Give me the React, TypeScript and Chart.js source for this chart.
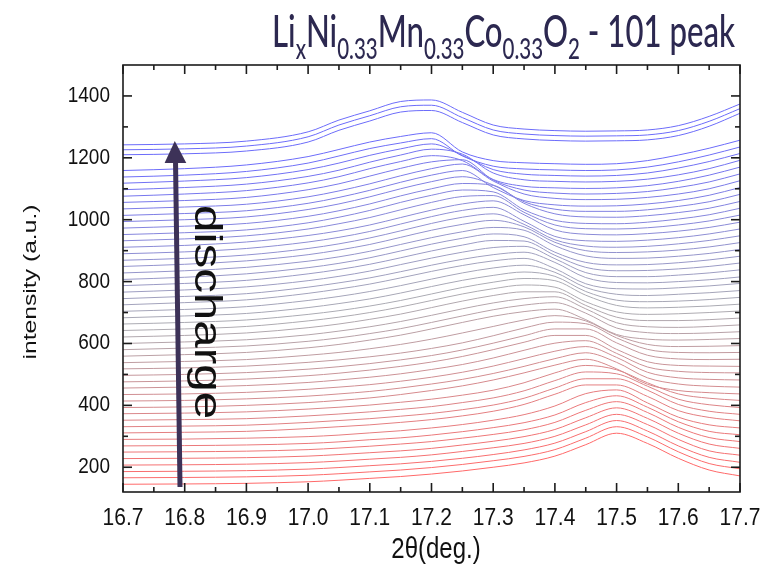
import React, { useEffect, useRef } from "react";
import { Chart, registerables } from "chart.js";

Chart.register(...registerables);

// 2θ sampling positions (deg.)
const twoTheta = [16.7, 16.8, 16.9, 17.0, 17.05, 17.1, 17.15, 17.2, 17.25, 17.3, 17.35, 17.4, 17.45, 17.5, 17.55, 17.6, 17.65, 17.7];

// waterfall offsets of the discharge scans (bottom = first scan)
const offsets = [
  145, 166, 186, 207, 228, 249, 269, 290, 311, 331,
  352, 373, 393, 414, 435, 456, 476, 497, 518, 538,
  559, 580, 600, 621, 642, 663, 683, 704, 725, 745,
  766, 787, 807, 828, 849, 869, 890, 911, 932, 952,
  973, 994, 1014, 1035, 1056, 1076, 1097, 1118, 1138, 1159,
];

// intensity above each scan's offset, at the twoTheta positions
const profiles = [
  [0, 1, 3, 8, 13, 19, 25, 33, 43, 55, 69, 91, 128, 165, 132, 84, 46, 27],
  [0, 1, 3, 8, 13, 19, 25, 33, 43, 55, 69, 91, 128, 165, 132, 84, 46, 29],
  [0, 1, 3, 8, 13, 19, 25, 33, 43, 55, 70, 92, 129, 165, 131, 83, 46, 30],
  [0, 1, 3, 8, 13, 19, 25, 33, 44, 56, 70, 93, 130, 164, 131, 83, 46, 32],
  [0, 1, 3, 8, 13, 19, 25, 33, 44, 56, 71, 94, 132, 164, 130, 82, 47, 33],
  [0, 1, 3, 8, 13, 19, 26, 34, 45, 57, 72, 96, 135, 163, 128, 80, 47, 34],
  [0, 1, 3, 8, 13, 20, 26, 35, 46, 59, 75, 100, 140, 162, 125, 78, 47, 36],
  [0, 1, 4, 9, 14, 21, 28, 37, 48, 62, 80, 108, 148, 160, 118, 72, 47, 37],
  [0, 2, 5, 14, 20, 26, 34, 43, 55, 70, 92, 125, 155, 155, 118, 72, 50, 39],
  [0, 2, 5, 14, 20, 26, 34, 43, 55, 70, 92, 125, 155, 155, 118, 72, 50, 40],
  [0, 2, 5, 14, 20, 27, 35, 44, 57, 72, 95, 128, 156, 150, 110, 68, 50, 41],
  [0, 2, 6, 15, 21, 28, 37, 47, 60, 76, 100, 132, 156, 142, 100, 64, 50, 43],
  [0, 2, 7, 16, 23, 31, 42, 55, 70, 89, 112, 137, 156, 125, 75, 55, 48, 44],
  [0, 2, 7, 16, 23, 31, 42, 55, 70, 89, 112, 137, 156, 125, 75, 55, 48, 45],
  [0, 2, 7, 17, 24, 32, 43, 56, 72, 92, 116, 140, 155, 120, 72, 54, 49, 47],
  [0, 3, 8, 18, 26, 35, 46, 60, 76, 97, 122, 145, 153, 112, 68, 54, 50, 49],
  [0, 3, 9, 20, 28, 38, 50, 64, 82, 104, 128, 150, 150, 105, 65, 53, 51, 50],
  [0, 3, 9, 20, 28, 38, 50, 64, 82, 104, 128, 150, 150, 105, 65, 53, 51, 52],
  [0, 3, 9, 21, 29, 39, 51, 66, 84, 107, 132, 151, 146, 100, 63, 53, 52, 53],
  [0, 4, 10, 24, 33, 45, 59, 76, 96, 117, 138, 152, 135, 88, 59, 52, 53, 55],
  [0, 5, 12, 27, 38, 52, 68, 88, 109, 129, 144, 152, 118, 70, 55, 52, 54, 57],
  [0, 5, 12, 27, 38, 52, 68, 88, 109, 129, 144, 152, 118, 70, 55, 52, 54, 58],
  [0, 5, 12, 28, 40, 54, 71, 91, 112, 131, 145, 151, 112, 67, 54, 52, 55, 60],
  [0, 5, 13, 30, 42, 57, 74, 95, 116, 134, 146, 146, 102, 64, 53, 53, 56, 61],
  [0, 5, 13, 31, 43, 58, 76, 97, 118, 135, 147, 140, 93, 60, 52, 54, 58, 63],
  [0, 5, 13, 31, 43, 58, 76, 97, 118, 135, 147, 140, 93, 60, 52, 54, 58, 64],
  [0, 6, 14, 33, 46, 61, 80, 101, 121, 137, 148, 134, 85, 57, 52, 54, 59, 66],
  [0, 6, 15, 35, 48, 64, 83, 104, 124, 140, 149, 126, 77, 55, 51, 55, 60, 67],
  [0, 7, 16, 37, 51, 67, 87, 108, 127, 142, 150, 117, 68, 52, 51, 55, 61, 69],
  [0, 7, 16, 37, 51, 67, 87, 108, 127, 142, 150, 117, 68, 52, 51, 55, 61, 70],
  [0, 7, 17, 37, 51, 68, 89, 110, 129, 144, 148, 108, 63, 50, 50, 55, 62, 72],
  [0, 7, 17, 38, 52, 69, 90, 112, 131, 146, 144, 98, 59, 48, 49, 54, 62, 73],
  [0, 7, 18, 38, 52, 70, 92, 114, 133, 147, 138, 88, 55, 47, 48, 54, 63, 75],
  [0, 7, 18, 38, 52, 70, 92, 114, 133, 147, 138, 88, 55, 47, 48, 54, 63, 76],
  [0, 7, 18, 38, 53, 71, 94, 117, 136, 149, 128, 78, 51, 45, 47, 53, 63, 77],
  [0, 6, 17, 38, 53, 72, 95, 119, 139, 150, 116, 66, 46, 42, 45, 53, 64, 79],
  [0, 6, 17, 38, 53, 72, 96, 120, 140, 150, 105, 56, 42, 40, 44, 52, 64, 80],
  [0, 6, 17, 38, 53, 72, 96, 120, 140, 150, 105, 56, 42, 40, 44, 52, 64, 81],
  [0, 6, 16, 38, 55, 75, 100, 124, 143, 146, 92, 51, 39, 38, 42, 51, 64, 83],
  [0, 6, 15, 38, 56, 78, 104, 127, 144, 138, 80, 46, 36, 35, 40, 50, 64, 85],
  [0, 6, 15, 38, 56, 78, 104, 127, 144, 138, 80, 46, 36, 35, 40, 50, 64, 86],
  [0, 6, 15, 39, 57, 80, 106, 129, 145, 118, 64, 40, 33, 33, 38, 49, 64, 88],
  [0, 6, 15, 39, 58, 81, 107, 130, 145, 90, 48, 34, 30, 31, 37, 48, 65, 90],
  [0, 6, 15, 39, 58, 81, 107, 130, 145, 90, 48, 34, 30, 31, 37, 48, 65, 91],
  [0, 6, 16, 41, 60, 85, 110, 131, 138, 72, 40, 30, 27, 29, 35, 48, 66, 92],
  [0, 7, 18, 43, 63, 89, 112, 131, 115, 54, 32, 27, 25, 27, 34, 48, 68, 94],
  [0, 7, 18, 43, 63, 89, 112, 131, 115, 54, 32, 27, 25, 27, 34, 48, 68, 95],
  [0, 7, 18, 44, 65, 90, 111, 127, 90, 44, 29, 25, 23, 25, 33, 49, 70, 96],
  [0, 6, 18, 45, 68, 92, 110, 124, 68, 35, 26, 23, 21, 23, 32, 49, 71, 97],
  [0, 6, 18, 45, 68, 92, 110, 122, 60, 32, 25, 22, 20, 22, 32, 50, 72, 98],
];

// the last three scans, separated by a gap
const topOffsets = [1210, 1226, 1242];
const topProfiles = [
  [0, 3, 12, 41, 79, 109, 138, 143, 104, 64, 51, 46, 44, 45, 48, 62, 92, 134],
  [0, 3, 12, 42, 80, 110, 139, 144, 104, 64, 51, 46, 44, 45, 48, 62, 92, 133],
  [0, 3, 12, 42, 80, 110, 140, 145, 105, 64, 51, 46, 44, 45, 48, 62, 92, 132],
];

const xTicks = [16.7, 16.8, 16.9, 17.0, 17.1, 17.2, 17.3, 17.4, 17.5, 17.6, 17.7];
const xTickLabels = ["16.7", "16.8", "16.9", "17.0", "17.1", "17.2", "17.3", "17.4", "17.5", "17.6", "17.7"];
const xMinorTicks = [16.75, 16.85, 16.95, 17.05, 17.15, 17.25, 17.35, 17.45, 17.55, 17.65];
const yTicks = [200, 400, 600, 800, 1000, 1200, 1400];
const yTickLabels = ["200", "400", "600", "800", "1000", "1200", "1400"];
const yMinorTicks = [300, 500, 700, 900, 1100, 1300];

const titleParts: [string, boolean][] = [
  ["Li", false], ["x", true], ["Ni", false], ["0.33", true], ["Mn", false], ["0.33", true],
  ["Co", false], ["0.33", true], ["O", false], ["2", true], [" - 101 peak", false],
];

const RED = [255, 105, 105];
const GRAY = [172, 172, 178];
const BLUE = [108, 108, 250];

function mix(a: number[], b: number[], f: number) {
  return a.map((v, k) => Math.round(v + (b[k] - v) * f));
}
function curveColor(t: number) {
  const c = t < 0.5 ? mix(RED, GRAY, t * 2) : mix(GRAY, BLUE, (t - 0.5) * 2);
  return `rgb(${c[0]},${c[1]},${c[2]})`;
}

function stretchedText(ctx: CanvasRenderingContext2D, text: string, x: number, y: number, align: CanvasTextAlign, base: CanvasTextBaseline, sy: number) {
  ctx.save();
  ctx.translate(x, y);
  ctx.scale(1, sy);
  ctx.textAlign = align;
  ctx.textBaseline = base;
  ctx.fillText(text, 0, 0);
  ctx.restore();
}

const decorPlugin = {
  id: "decor",
  afterDraw(chart: any) {
    const ctx: CanvasRenderingContext2D = chart.ctx;
    const { left, top, right, bottom } = chart.chartArea;
    const xs = chart.scales.x;
    const ys = chart.scales.y;
    ctx.save();

    // frame
    ctx.strokeStyle = "#1c1c1c";
    ctx.lineWidth = 1.6;
    ctx.strokeRect(left, top, right - left, bottom - top);

    const seg = (x1: number, y1: number, x2: number, y2: number) => {
      ctx.beginPath();
      ctx.moveTo(x1, y1);
      ctx.lineTo(x2, y2);
      ctx.stroke();
    };
    // inward ticks on all sides
    xTicks.forEach((v) => {
      const p = xs.getPixelForValue(v);
      seg(p, bottom, p, bottom - 9);
      seg(p, top, p, top + 9);
    });
    xMinorTicks.forEach((v) => {
      const p = xs.getPixelForValue(v);
      seg(p, bottom, p, bottom - 5);
      seg(p, top, p, top + 5);
    });
    yTicks.forEach((v) => {
      const p = ys.getPixelForValue(v);
      seg(left, p, left + 9, p);
      seg(right, p, right - 9, p);
    });
    yMinorTicks.forEach((v) => {
      const p = ys.getPixelForValue(v);
      seg(left, p, left + 5, p);
      seg(right, p, right - 5, p);
    });

    // tick labels
    ctx.fillStyle = "#111";
    ctx.font = '21px "Liberation Sans", Arial, sans-serif';
    xTicks.forEach((v, k) => {
      stretchedText(ctx, xTickLabels[k], xs.getPixelForValue(v), bottom + 26, "center", "middle", 1.15);
    });
    ctx.font = '19px "Liberation Sans", Arial, sans-serif';
    yTicks.forEach((v, k) => {
      stretchedText(ctx, yTickLabels[k], left - 13, ys.getPixelForValue(v), "right", "middle", 1.15);
    });

    // x axis title
    ctx.font = '24px "Liberation Sans", Arial, sans-serif';
    stretchedText(ctx, "2θ(deg.)", 436, 550, "center", "middle", 1.2);

    // y axis title
    ctx.save();
    ctx.translate(31, 282);
    ctx.rotate(-Math.PI / 2);
    ctx.scale(1.3, 1);
    ctx.font = '19px "Liberation Sans", Arial, sans-serif';
    ctx.textAlign = "center";
    ctx.textBaseline = "middle";
    ctx.fillText("intensity (a.u.)", 0, 0);
    ctx.restore();

    // arrow
    ctx.fillStyle = "#3d3258";
    ctx.beginPath();
    ctx.moveTo(177.5, 487);
    ctx.lineTo(182.5, 487);
    ctx.lineTo(178, 160);
    ctx.lineTo(173, 160);
    ctx.closePath();
    ctx.fill();
    ctx.beginPath();
    ctx.moveTo(174.8, 141);
    ctx.lineTo(186.3, 163);
    ctx.lineTo(164.6, 163);
    ctx.closePath();
    ctx.fill();

    // discharge label
    ctx.save();
    ctx.translate(195, 205);
    ctx.rotate(Math.PI / 2);
    ctx.scale(1.3, 1);
    ctx.fillStyle = "#111";
    ctx.font = '38px "Liberation Sans", Arial, sans-serif';
    ctx.textAlign = "left";
    ctx.textBaseline = "alphabetic";
    ctx.fillText("discharge", 0, 0);
    ctx.restore();

    // title with subscripts
    const mainF = 38;
    const subF = 25;
    const fam = 'Lato, "Open Sans", sans-serif';
    let w = 0;
    titleParts.forEach(([s, sub]) => {
      ctx.font = `500 ${sub ? subF : mainF}px ${fam}`;
      w += ctx.measureText(s).width;
    });
    const sx = 463 / w;
    ctx.save();
    ctx.translate(272, 47);
    ctx.scale(sx, 1.18);
    ctx.fillStyle = "#2c2850";
    ctx.textAlign = "left";
    ctx.textBaseline = "alphabetic";
    let cx = 0;
    titleParts.forEach(([s, sub]) => {
      ctx.font = `500 ${sub ? subF : mainF}px ${fam}`;
      ctx.fillText(s, cx, sub ? 10 : 0);
      cx += ctx.measureText(s).width;
    });
    ctx.restore();

    ctx.restore();
  },
};

export default function App() {
  const ref = useRef<HTMLCanvasElement | null>(null);
  useEffect(() => {
    if (!ref.current) return;
    const n = offsets.length;
    const datasets: any[] = offsets.map((off, i) => ({
      data: twoTheta.map((x, j) => ({ x, y: off + profiles[i][j] })),
      borderColor: curveColor(i / (n - 1)),
      borderWidth: 1,
      pointRadius: 0,
      fill: false,
      cubicInterpolationMode: "monotone",
    }));
    topOffsets.forEach((off, i) => {
      datasets.push({
        data: twoTheta.map((x, j) => ({ x, y: off + topProfiles[i][j] })),
        borderColor: curveColor(1),
        borderWidth: 1,
        pointRadius: 0,
        fill: false,
        cubicInterpolationMode: "monotone",
      });
    });
    const chart = new Chart(ref.current, {
      type: "line",
      data: { datasets },
      options: {
        responsive: false,
        animation: false,
        devicePixelRatio: 1,
        events: [],
        layout: { padding: { left: 123, right: 32, top: 65, bottom: 72 } },
        plugins: { legend: { display: false }, tooltip: { enabled: false }, title: { display: false } },
        scales: {
          x: {
            type: "linear",
            min: 16.7,
            max: 17.7,
            display: false,
            afterBuildTicks: (s: any) => { s.ticks = xTicks.map((value) => ({ value })); },
          },
          y: {
            type: "linear",
            min: 120,
            max: 1500,
            display: false,
            afterBuildTicks: (s: any) => { s.ticks = yTicks.map((value) => ({ value })); },
          },
        },
      } as any,
      plugins: [decorPlugin],
    });
    return () => chart.destroy();
  }, []);
  return (
    <div style={{ position: "absolute", left: 0, top: 0, width: 772, height: 564, background: "#fff" }}>
      <canvas ref={ref} width={772} height={564} style={{ display: "block" }} />
    </div>
  );
}
